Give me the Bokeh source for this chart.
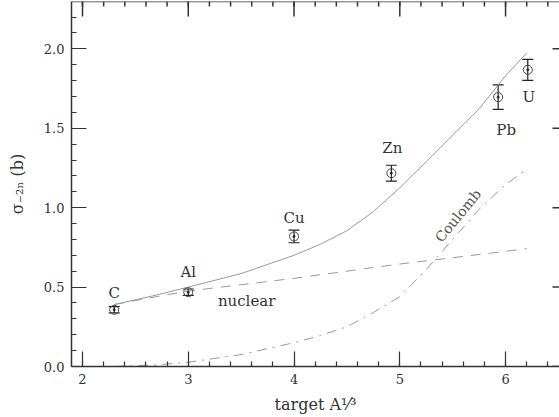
from bokeh.plotting import figure
from bokeh.models import Range1d, ColumnDataSource, Whisker, TeeHead, Label, FixedTicker, PrintfTickFormatter, Span
from bokeh.core.properties import value
from bokeh.embed import file_html
from bokeh.resources import INLINE

# measured cross sections
targets = ["C", "Al", "Cu", "Zn", "Pb", "U"]
a13 = [2.30, 3.00, 4.00, 4.92, 5.93, 6.21]
sigma = [0.357, 0.468, 0.819, 1.217, 1.696, 1.868]
sigma_err = [0.020, 0.020, 0.040, 0.050, 0.077, 0.066]

# model curves
curve_x = [2.30, 2.70, 3.00, 3.50, 4.00, 4.25, 4.50, 4.75, 5.00, 5.25, 5.50, 5.75, 6.00, 6.20]
total = [0.39, 0.45, 0.50, 0.585, 0.70, 0.77, 0.855, 0.975, 1.125, 1.29, 1.457, 1.623, 1.83, 1.975]
nuclear = [0.39, 0.44, 0.475, 0.515, 0.555, 0.578, 0.60, 0.623, 0.645, 0.665, 0.685, 0.705, 0.725, 0.742]
coulomb = [0.0, 0.01, 0.027, 0.075, 0.15, 0.195, 0.25, 0.34, 0.44, 0.61, 0.80, 0.99, 1.145, 1.24]

# ticks
x_major = [2, 3, 4, 5, 6]
x_minor = [1.8, 2.0, 2.2, 2.4, 2.6, 2.8, 3.0, 3.2, 3.4, 3.6, 3.8, 4.0, 4.2, 4.4, 4.6, 4.8,
           5.0, 5.2, 5.4, 5.6, 5.8, 6.0, 6.2, 6.4]
y_major = [0.0, 0.5, 1.0, 1.5, 2.0]
y_minor = [0.0, 0.1, 0.2, 0.3, 0.4, 0.5, 0.6, 0.7, 0.8, 0.9, 1.0, 1.1, 1.2, 1.3, 1.4, 1.5,
           1.6, 1.7, 1.8, 1.9, 2.0, 2.1, 2.2]

FONT = "DejaVu Serif"
AX = "#333333"
CURVE = "#9a9a9a"

W, H = 559, 417
BL, BB, BT = 71, 51, 1
X0, X1 = 1.896, 6.51
Y0, Y1 = 0.0, 2.298
# screen-pixel to data-unit factors for the drawn tick lengths
DY = (Y1 - Y0) / (H - BB - BT)
DX = (X1 - X0) / (W - BL)

p = figure(width=W, height=H, output_backend="svg", toolbar_location=None,
           x_range=Range1d(X0, X1), y_range=Range1d(Y0, Y1),
           min_border_left=BL, min_border_right=0, min_border_top=BT, min_border_bottom=BB)
p.grid.visible = False
p.outline_line_color = None
p.background_fill_color = "white"
p.border_fill_color = "white"

for ax in (p.xaxis[0], p.yaxis[0]):
    ax.axis_line_color = AX
    ax.axis_line_width = 1.5
    ax.major_tick_in = 15
    ax.major_tick_out = 0
    ax.minor_tick_in = 5
    ax.minor_tick_out = 0
    ax.major_tick_line_color = AX
    ax.minor_tick_line_color = AX
    ax.major_tick_line_width = 1.2
    ax.minor_tick_line_width = 1.2
    ax.major_label_text_font = FONT
    ax.major_label_text_font_size = "13px"
    ax.major_label_text_color = AX
    ax.major_label_standoff = 7
    ax.axis_label_text_font = FONT
    ax.axis_label_text_font_style = "normal"
    ax.axis_label_text_font_size = "16px"
    ax.axis_label_text_color = AX

p.xaxis.ticker = FixedTicker(ticks=x_major, minor_ticks=x_minor)
p.yaxis.ticker = FixedTicker(ticks=y_major, minor_ticks=y_minor)
p.yaxis.formatter = PrintfTickFormatter(format="%.1f")
p.xaxis.axis_label = "target A¹⁄³"
p.yaxis.axis_label = "σ₋₂ₙ (b)"
p.xaxis.axis_label_standoff = 8
p.yaxis.axis_label_standoff = 14

# top frame line and inward ticks on top / right (no labels)
p.add_layout(Span(location=Y1, dimension="width", line_color=AX, line_width=1.5))
top_src = ColumnDataSource(dict(x=x_major, y0=[Y1] * len(x_major), y1=[Y1 - 15 * DY] * len(x_major)))
topm_src = ColumnDataSource(dict(x=x_minor, y0=[Y1] * len(x_minor), y1=[Y1 - 5 * DY] * len(x_minor)))
right_src = ColumnDataSource(dict(y=y_major, x0=[X1] * len(y_major), x1=[X1 - 7 * DX] * len(y_major)))
p.segment(x0="x", y0="y0", x1="x", y1="y1", source=top_src, line_color=AX, line_width=1.5)
p.segment(x0="x", y0="y0", x1="x", y1="y1", source=topm_src, line_color=AX, line_width=1.5)
p.segment(x0="x0", y0="y", x1="x1", y1="y", source=right_src, line_color=AX, line_width=1.5)

# curves
p.line(curve_x, total, line_color=CURVE, line_width=1)
p.line(curve_x, nuclear, line_color=CURVE, line_width=1, line_dash="10 8")
p.line(curve_x, coulomb, line_color=CURVE, line_width=1, line_dash="10 6 2 6")

# data with error bars
src = ColumnDataSource(dict(x=a13, y=sigma,
                            lower=[s - e for s, e in zip(sigma, sigma_err)],
                            upper=[s + e for s, e in zip(sigma, sigma_err)],
                            name=targets,
                            yoff=[-17, -20, -18, -25, 33, 27],
                            xoff=[0, 0, 0, 1, 8, 1]))
w = Whisker(source=src, base="x", lower="lower", upper="upper",
            line_color="#222222", line_width=1.2,
            upper_head=TeeHead(size=11, line_color="#222222", line_width=1.2),
            lower_head=TeeHead(size=11, line_color="#222222", line_width=1.2))
p.add_layout(w)
p.scatter("x", "y", source=src, size=9, marker="circle", fill_color=None,
          line_color="#444444", line_width=1)
p.scatter("x", "y", source=src, size=2, marker="circle", fill_color="#222222",
          line_color="#222222")
p.text("x", "y", text="name", source=src, x_offset="xoff", y_offset="yoff",
       text_font=value(FONT), text_font_size="15px", text_color=AX,
       text_align="center", text_baseline="middle")

p.add_layout(Label(x=3.28, y=0.415, text="nuclear", text_font=FONT, text_font_size="15px",
                   text_color=AX, text_baseline="middle"))
p.add_layout(Label(x=5.55, y=0.95, text="Coulomb", text_font=FONT, text_font_size="14px",
                   text_color="#555555", text_align="center", text_baseline="middle",
                   angle=0.88))

open("out.html", "w").write(file_html(p, INLINE))
